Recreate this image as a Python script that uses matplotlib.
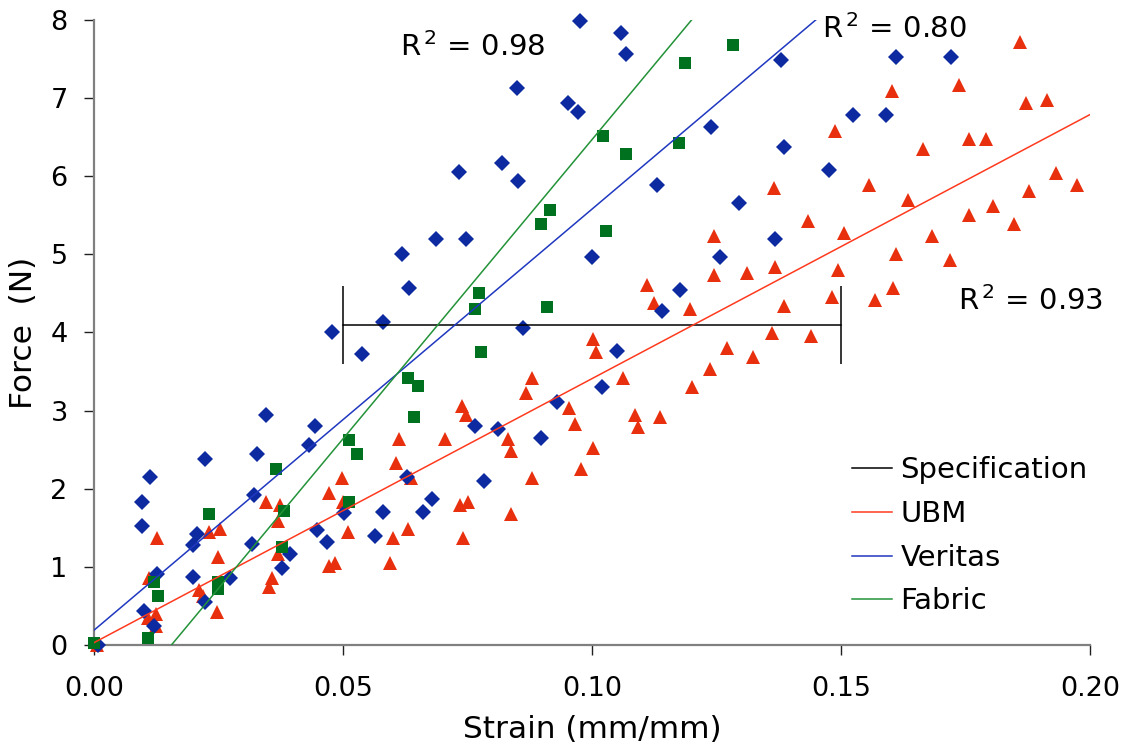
import numpy as np
import matplotlib
matplotlib.use("Agg")
import matplotlib.pyplot as plt

plt.rcParams['font.family'] = ['DejaVu Sans']

# measured force vs strain for the three materials
ubm_strain = [0.186, 0.1737, 0.1602, 0.1871, 0.1914, 0.1488, 0.1665, 0.1757, 0.1791, 0.1365,
              0.1556, 0.1635, 0.1932, 0.1974, 0.1878, 0.1434, 0.1506, 0.1757, 0.1805, 0.1683,
              0.1847, 0.161, 0.1719, 0.1311, 0.1367, 0.1494, 0.1604, 0.1568, 0.1482, 0.1386,
              0.1361, 0.144, 0.1271, 0.1323, 0.1245, 0.1245, 0.111, 0.1124, 0.1197, 0.1002,
              0.1008, 0.1237, 0.1201, 0.1062, 0.088, 0.0867, 0.0739, 0.0747, 0.0954, 0.0966,
              0.1086, 0.1092, 0.1137, 0.0612, 0.0705, 0.0831, 0.0837, 0.1002, 0.0606, 0.0637,
              0.088, 0.0978, 0.0735, 0.0751, 0.0837, 0.0631, 0.0600, 0.0741, 0.0594, 0.0498,
              0.0472, 0.0345, 0.0373, 0.0500, 0.0369, 0.0510, 0.0127, 0.0231, 0.0253, 0.0249,
              0.0369, 0.0357, 0.0351, 0.0472, 0.0484, 0.0110, 0.0211, 0.0219, 0.0247, 0.0108,
              0.0124, 0.0124, 0.0006]
ubm_force = [7.72, 7.17, 7.09, 6.94, 6.98, 6.58, 6.35, 6.48, 6.48, 5.85,
             5.89, 5.70, 6.04, 5.89, 5.81, 5.43, 5.27, 5.50, 5.62, 5.24,
             5.39, 5.00, 4.93, 4.76, 4.84, 4.80, 4.57, 4.42, 4.46, 4.34,
             3.99, 3.96, 3.80, 3.69, 5.24, 4.73, 4.61, 4.38, 4.30, 3.92,
             3.75, 3.53, 3.30, 3.42, 3.42, 3.23, 3.06, 2.94, 3.03, 2.83,
             2.94, 2.79, 2.92, 2.64, 2.64, 2.64, 2.48, 2.52, 2.33, 2.14,
             2.14, 2.25, 1.79, 1.83, 1.68, 1.49, 1.37, 1.37, 1.05, 2.14,
             1.95, 1.83, 1.79, 1.83, 1.59, 1.45, 1.37, 1.45, 1.49, 1.13,
             1.17, 0.86, 0.74, 1.01, 1.05, 0.86, 0.70, 0.63, 0.42, 0.35,
             0.40, 0.24, 0.00]

veritas_strain = [0.0976, 0.1058, 0.1068, 0.0849, 0.0952, 0.0972, 0.1239, 0.0733, 0.0819, 0.0851,
                  0.113, 0.0687, 0.0747, 0.0618, 0.100, 0.1257, 0.0632, 0.1177, 0.114, 0.058,
                  0.0861, 0.138, 0.161, 0.172, 0.1524, 0.159, 0.1386, 0.1476, 0.1295, 0.1367,
                  0.0478, 0.0538, 0.0345, 0.0444, 0.0432, 0.0327, 0.0223, 0.0112, 0.0096, 0.0321,
                  0.0096, 0.0207, 0.0199, 0.0317, 0.0394, 0.0378, 0.0273, 0.0199, 0.0127, 0.0100,
                  0.0120, 0.0223, 0.0502, 0.0448, 0.0468, 0.0564, 0.0008, 0.058, 0.0661, 0.0679,
                  0.0628, 0.0783, 0.0765, 0.0811, 0.0898, 0.093, 0.102, 0.105]
veritas_force = [7.99, 7.83, 7.57, 7.13, 6.94, 6.82, 6.63, 6.06, 6.17, 5.94,
                 5.89, 5.20, 5.20, 5.00, 4.97, 4.97, 4.57, 4.55, 4.27, 4.13,
                 4.06, 7.49, 7.52, 7.53, 6.79, 6.79, 6.37, 6.08, 5.66, 5.20,
                 4.00, 3.73, 2.94, 2.80, 2.56, 2.45, 2.38, 2.15, 1.83, 1.92,
                 1.52, 1.42, 1.28, 1.29, 1.17, 0.99, 0.86, 0.87, 0.91, 0.44,
                 0.24, 0.55, 1.69, 1.47, 1.32, 1.40, 0.00, 1.70, 1.70, 1.87,
                 2.15, 2.10, 2.80, 2.76, 2.65, 3.11, 3.30, 3.76]

fabric_strain = [0.1187, 0.1022, 0.1068, 0.1175, 0.0916, 0.0898, 0.1028, 0.0773, 0.0765, 0.091,
                 0.1283, 0.0777, 0.063, 0.065, 0.0643, 0.0512, 0.0528, 0.0365, 0.0231, 0.0512,
                 0.0382, 0.0378, 0.0249, 0.0249, 0.0120, 0.0129, 0.0108, 0.0]
fabric_force = [7.45, 6.52, 6.29, 6.42, 5.57, 5.39, 5.30, 4.51, 4.30, 4.32,
                7.68, 3.75, 3.42, 3.31, 2.92, 2.62, 2.45, 2.25, 1.68, 1.83,
                1.72, 1.26, 0.80, 0.72, 0.80, 0.63, 0.09, 0.03]

# linear trendlines (slope, intercept) and their R^2
ubm_fit = (33.8, 0.03)
veritas_fit = (53.9, 0.19)
fabric_fit = (76.6, -1.19)
r2_values = {"UBM": 0.93, "Veritas": 0.80, "Fabric": 0.98}

# specification window
spec_strain = [0.05, 0.15]
spec_force = 4.1
spec_tol = 0.5

red_pt, red_ln = "#E8300E", "#FF3A1E"
blue_pt, blue_ln = "#0D2AA0", "#2038C0"
green_pt, green_ln = "#00721F", "#239238"

fig = plt.figure(figsize=(11.25, 7.48), dpi=100)
ax = fig.add_axes([0.0836, 0.1377, 0.8854, 0.8356])

ax.plot(ubm_strain, ubm_force, "^", color=red_pt, ms=10, mew=0, clip_on=False, zorder=3)
ax.plot(veritas_strain, veritas_force, "D", color=blue_pt, ms=7.8, mew=0, clip_on=False, zorder=3)
ax.plot(fabric_strain, fabric_force, "s", color=green_pt, ms=8, mew=0, clip_on=False, zorder=3)

xs = np.array([0.0, 0.2])
ax.plot(spec_strain, [spec_force, spec_force], color="black", lw=1.1, label="Specification", zorder=4)
ax.vlines(spec_strain, spec_force - spec_tol, spec_force + spec_tol, color="black", lw=1.1, zorder=4)
ax.plot(xs, ubm_fit[0] * xs + ubm_fit[1], color=red_ln, lw=1.1, label="UBM", zorder=4)
ax.plot(xs, veritas_fit[0] * xs + veritas_fit[1], color=blue_ln, lw=1.1, label="Veritas", zorder=4)
ax.plot(xs, fabric_fit[0] * xs + fabric_fit[1], color=green_ln, lw=1.1, label="Fabric", zorder=4)

ax.text(0.0614, 7.54, "R$^{\\,2}$ = %.2f" % r2_values["Fabric"], fontsize=21, va="baseline")
ax.text(0.1462, 7.77, "R$^{\\,2}$ = %.2f" % r2_values["Veritas"], fontsize=21, va="baseline")
ax.text(0.1735, 4.29, "R$^{\\,2}$ = %.2f" % r2_values["UBM"], fontsize=21, va="baseline")

ax.set_xlim(0, 0.2)
ax.set_ylim(0, 8)
ax.set_xticks([0.0, 0.05, 0.10, 0.15, 0.20])
ax.set_xticklabels(["0.00", "0.05", "0.10", "0.15", "0.20"])
ax.set_yticks(range(0, 9))

for side in ["top", "right"]:
    ax.spines[side].set_visible(False)
for side in ["left", "bottom"]:
    ax.spines[side].set_color("#808080")
    ax.spines[side].set_linewidth(1.6)

ax.tick_params(axis="both", direction="out", length=7, width=1, color="#202020", labelsize=19.5)
ax.tick_params(axis="x", pad=15)
ax.tick_params(axis="y", pad=12)

ax.set_xlabel("Strain (mm/mm)", fontsize=22.5, labelpad=10)
ax.set_ylabel("Force  (N)", fontsize=22.5, labelpad=9)

ax.legend(loc="upper left", bbox_to_anchor=(0.761, 0.302), frameon=False, fontsize=21,
          handlelength=1.36, handletextpad=0.3, labelspacing=0.54, borderpad=0, borderaxespad=0)

fig.savefig("out.png", dpi=100)
